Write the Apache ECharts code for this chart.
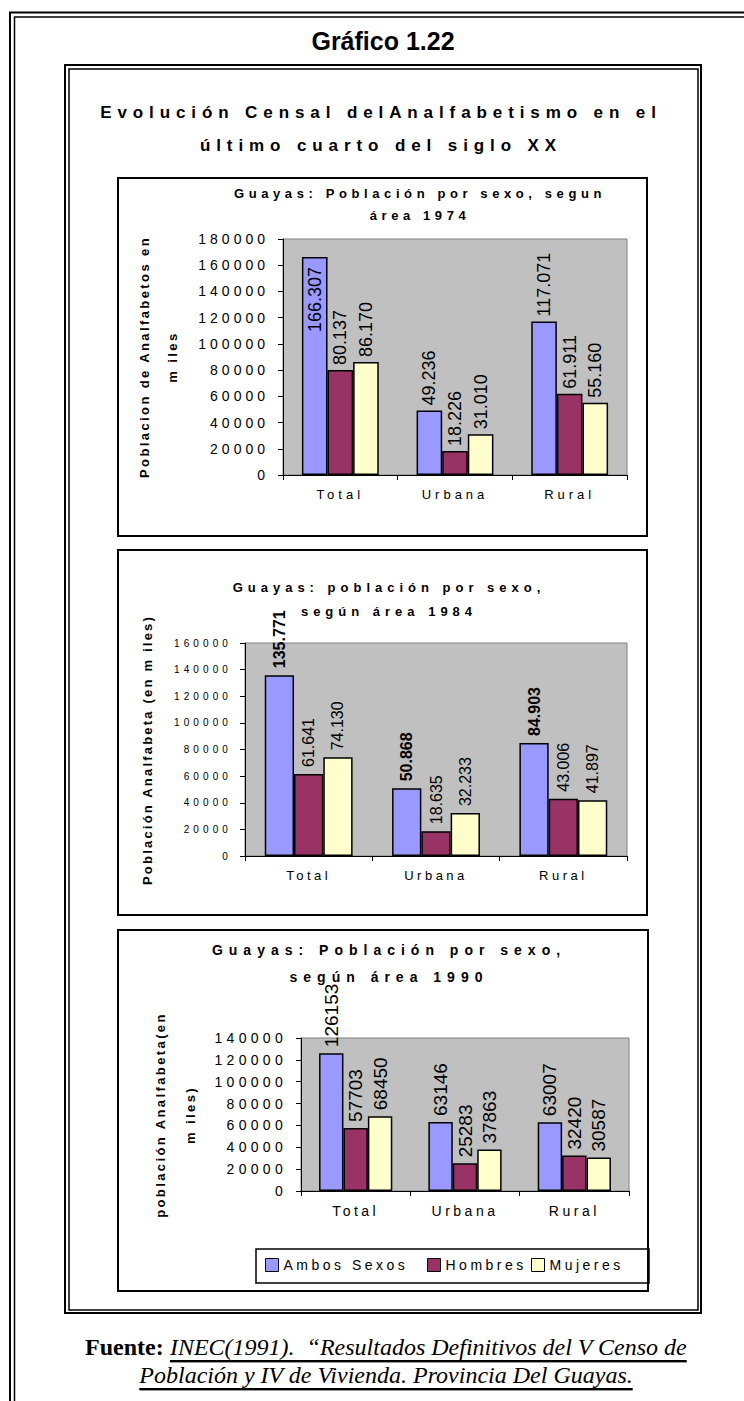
<!DOCTYPE html>
<html>
<head>
<meta charset="utf-8">
<script src="https://cdn.jsdelivr.net/npm/echarts@6/dist/echarts.min.js"></script>
<style>
html,body{margin:0;padding:0;background:#fff;}
#c{width:744px;height:1401px;}
text[style*="lsMain"]{letter-spacing:5.9px;}
text[style*="lsTa"]{letter-spacing:4.6px;}
text[style*="lsTb"]{letter-spacing:5px;}
text[style*="lsTc"]{letter-spacing:6px;}
text[style*="lsYa"]{letter-spacing:4px;}
text[style*="lsYb"]{letter-spacing:4.1px;}
text[style*="lsYc"]{letter-spacing:4.3px;}
text[style*="lsXa"]{letter-spacing:4px;}
text[style*="lsXb"]{letter-spacing:3.5px;}
text[style*="lsNa"]{letter-spacing:2.4px;}
text[style*="lsNb"]{letter-spacing:2.2px;}
text[style*="lsLg"]{letter-spacing:3.5px;}
text[style*="ulX"]{text-decoration:underline;}
</style>
</head>
<body>
<div id="c"></div>
<script>
// ---- data ----
const categories = ['Total', 'Urbana', 'Rural'];
const seriesNames = ['Ambos Sexos', 'Hombres', 'Mujeres'];

const ambos1974 = [166307, 49236, 117071];
const hombres1974 = [80137, 18226, 61911];
const mujeres1974 = [86170, 31010, 55160];

const ambos1984 = [135771, 50868, 84903];
const hombres1984 = [61641, 18635, 43006];
const mujeres1984 = [74130, 32233, 41897];

const ambos1990 = [126153, 63146, 63007];
const hombres1990 = [57703, 25283, 32420];
const mujeres1990 = [68450, 37863, 30587];

const yMax = [180000, 160000, 140000];
const yInterval = 20000;

const chartTitles = [
  'Guayas: Población por sexo, segun\nárea 1974',
  'Guayas: población por sexo,\nsegún área 1984',
  'Guayas: Población por sexo,\nsegún área 1990'
];
const yNames = [
  'Poblacion de Analfabetos en\nm iles',
  'Población Analfabeta (en m iles)',
  'población Analfabeta(en\nm iles)'
];
const mainTitle = 'Evolución Censal delAnalfabetismo en el\núltimo cuarto del siglo XX';
const figLabel = 'Gráfico 1.22';
const sourceBold = 'Fuente: ';
const sourceLine1 = 'INEC(1991).  “Resultados Definitivos del V Censo de';
const sourceLine2 = 'Población y IV de Vivienda. Provincia Del Guayas.';

// ---- styling / layout ----
const colors = ['#9999FF', '#993366', '#FFFFCC'];
const narrow = "'Liberation Sans Narrow', 'Arial Narrow', Arial";
const serif = "'Times New Roman', 'Liberation Serif', serif";
const fmtDot = v => String(v).replace(/\B(?=(\d{3})+(?!\d))/g, '.');
const fmtRaw = v => String(v);

const panels = [
  { data: [ambos1974, hombres1974, mujeres1974], grid: {left: 283, top: 239, width: 344, height: 236},
    ySize: 14, yFam: 'Arial, lsYa', yMargin: 14, xSize: 13, xFam: 'Arial, lsXa',
    lblSize: 18, dist: 5, gap: '33%', fmt: fmtDot },
  { data: [ambos1984, hombres1984, mujeres1984], grid: {left: 245, top: 643, width: 382, height: 213},
    ySize: 10, yFam: 'Arial, lsYb', yMargin: 13, xSize: 13, xFam: 'Arial, lsXb',
    lblSize: 16, dist: 7, gap: '31%', fmt: fmtDot },
  { data: [ambos1990, hombres1990, mujeres1990], grid: {left: 301, top: 1038, width: 328, height: 153},
    ySize: 14, yFam: 'Arial, lsYc', yMargin: 14, xSize: 14, xFam: 'Arial, lsXb',
    lblSize: 19, dist: 6, gap: '33%', fmt: fmtRaw }
];

const grids = [], xAxes = [], yAxes = [], series = [];
panels.forEach((p, k) => {
  grids.push(Object.assign({show: true, backgroundColor: '#C0C0C0', borderColor: '#808080', borderWidth: 1,
    containLabel: false, outerBoundsMode: 'none'}, p.grid));
  xAxes.push({
    type: 'category', gridIndex: k, data: categories,
    axisLine: {show: true, lineStyle: {color: '#000', width: 1}},
    axisTick: {show: true, alignWithLabel: false, length: 5, lineStyle: {color: '#000'}},
    axisLabel: {color: '#000', fontSize: p.xSize, fontFamily: p.xFam, margin: 13},
    splitLine: {show: false}
  });
  yAxes.push({
    type: 'value', gridIndex: k, min: 0, max: yMax[k], interval: yInterval,
    axisLine: {show: true, lineStyle: {color: '#000', width: 1}},
    axisTick: {show: true, length: 5, lineStyle: {color: '#000'}},
    axisLabel: {color: '#000', fontSize: p.ySize, fontFamily: p.yFam, margin: p.yMargin,
      formatter: v => String(v)},
    splitLine: {show: false}
  });
  p.data.forEach((arr, s) => {
    let data = arr.slice();
    if (k === 0 && s === 0) {
      // label that does not fit above the plot is drawn inside the bar
      data = arr.map((v, i) => i === 0 ? {value: v, label: {position: 'insideTop', align: 'right', distance: 10}} : v);
    }
    series.push({
      type: 'bar', name: seriesNames[s], xAxisIndex: k, yAxisIndex: k, data: data,
      barGap: '0%', barCategoryGap: p.gap,
      itemStyle: {color: colors[s], borderColor: '#000', borderWidth: 1.5},
      emphasis: {disabled: true},
      label: {show: true, position: 'top', rotate: 90, align: 'left', verticalAlign: 'middle',
        distance: p.dist, fontSize: p.lblSize, fontFamily: narrow, color: '#000',
        fontWeight: (k === 1 && s === 0) ? 'bold' : 'normal',
        formatter: prm => p.fmt(prm.value)}
    });
  });
});

function frame(x, y, w, h, lw) {
  return {type: 'rect', silent: true, shape: {x: x, y: y, width: w, height: h},
    style: {fill: 'none', stroke: '#000', lineWidth: lw}};
}
function txt(x, y, text, size, fam, weight, lh, rot) {
  return {type: 'text', silent: true, x: x, y: y, rotation: rot || 0,
    style: {text: text, x: 0, y: 0, fill: '#000', fontSize: size, fontFamily: fam,
      fontWeight: weight || 'normal', align: 'center', verticalAlign: 'middle', lineHeight: lh || size * 1.2}};
}

const graphic = [
  frame(10, 12.5, 900, 1500, 2),
  frame(14.5, 17, 900, 1500, 1.5),
  frame(65, 65, 636, 1248, 2),
  frame(69, 69, 629, 1241, 1.5),
  frame(118, 178, 529, 358, 2),
  frame(118, 550, 529, 365, 2),
  frame(118, 930, 530, 361, 2),
  frame(256, 1249, 393, 34, 1.5),
  txt(383, 41, figLabel, 25, 'Arial', 'bold'),
  txt(381, 128.5, mainTitle, 17, 'Arial, lsMain', 'bold', 33),
  txt(420, 204, chartTitles[0], 13, 'Arial, lsTa', 'bold', 22),
  txt(389, 599, chartTitles[1], 13, 'Arial, lsTb', 'bold', 24),
  txt(389, 963.5, chartTitles[2], 14, 'Arial, lsTc', 'bold', 27),
  txt(158, 357, yNames[0], 13, 'Arial, lsNa', 'bold', 28, Math.PI / 2),
  txt(147, 750, yNames[1], 13, 'Arial, lsNb', 'bold', 16, Math.PI / 2),
  txt(175, 1115, yNames[2], 13, 'Arial, lsNa', 'bold', 30, Math.PI / 2),
  {type: 'text', silent: true, x: 386, y: 1347,
    style: {text: '{b|' + sourceBold + '}{i|' + sourceLine1 + '}', x: 0, y: 0, align: 'center', verticalAlign: 'middle',
      rich: {
        b: {fontSize: 24, fontWeight: 'bold', fontFamily: serif, fill: '#000'},
        i: {fontSize: 24, fontStyle: 'italic', fontFamily: serif + ', ulX', fill: '#000'}
      }}},
  {type: 'text', silent: true, x: 386, y: 1375,
    style: {text: sourceLine2, x: 0, y: 0, align: 'center', verticalAlign: 'middle', fill: '#000',
      fontSize: 24, fontStyle: 'italic', fontFamily: serif + ', ulX'}}
];

const legendX = [265, 427, 531];
const legends = seriesNames.map((n, i) => ({
  data: [n], left: legendX[i], top: 1258, padding: 0, orient: 'horizontal',
  itemWidth: 13, itemHeight: 13, icon: 'rect', selectedMode: false,
  itemStyle: {borderColor: '#000', borderWidth: 1},
  textStyle: {color: '#000', fontSize: 14, fontFamily: 'Arial, lsLg'}
}));

const chart = echarts.init(document.getElementById('c'), null, {renderer: 'svg', width: 744, height: 1401});
chart.setOption({
  animation: false,
  backgroundColor: '#fff',
  grid: grids, xAxis: xAxes, yAxis: yAxes, series: series,
  legend: legends,
  graphic: graphic
});
</script>
</body>
</html>
